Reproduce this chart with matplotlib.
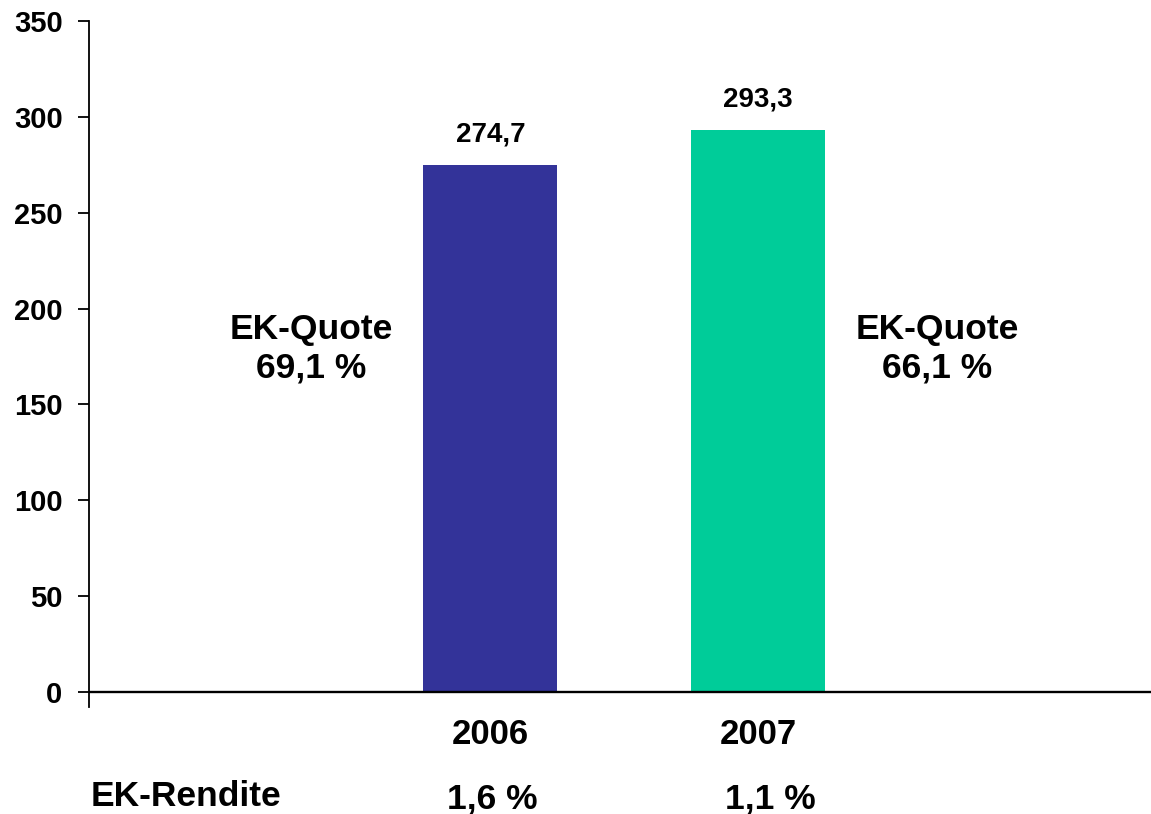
import matplotlib
matplotlib.use("Agg")
import matplotlib.pyplot as plt

years = ["2006", "2007"]
values = [274.7, 293.3]
value_labels = ["274,7", "293,3"]
colors = ["#333399", "#00CC99"]
quote_labels = ["EK-Quote\n69,1 %", "EK-Quote\n66,1 %"]
rendite_title = "EK-Rendite"
rendite_labels = ["1,6 %", "1,1 %"]
yticks = [0, 50, 100, 150, 200, 250, 300, 350]

plt.rcParams['font.family'] = ['Liberation Sans', 'DejaVu Sans']
plt.rcParams['font.weight'] = 'bold'

fig = plt.figure(figsize=(11.51, 8.14), dpi=100)
ax = fig.add_axes([89/1151, 107/814, 1062/1151, 686/814])

x = [0, 1]
bars = ax.bar(x, values, width=0.5, color=colors, zorder=2)

ax.set_xlim(-1.5, 2.469)
ax.set_ylim(-7.8, 350)
ax.set_yticks(yticks)
ax.set_yticklabels([str(v) for v in yticks], fontsize=21, fontweight='bold')
ax.tick_params(axis='y', direction='out', length=8, width=1.3, pad=11)

ax.set_xticks(x)
ax.set_xticklabels(years, fontsize=25, fontweight='bold')
ax.tick_params(axis='x', length=0, pad=8)

for s in ['top', 'right', 'bottom']:
    ax.spines[s].set_visible(False)
ax.spines['left'].set_linewidth(1.3)
ax.axhline(0, color='black', linewidth=1.7, zorder=3)

for xi, v, lab in zip(x, values, value_labels):
    ax.annotate(lab, (xi, v), xytext=(0, 22), textcoords='offset points',
                ha='center', va='center', fontsize=20, fontweight='bold')

quote_x = [-0.67, 1.669]
for qx, q in zip(quote_x, quote_labels):
    ax.text(qx, 179, q, ha='center', va='center', fontsize=25.5,
            fontweight='bold', linespacing=1.22)

ax.text(-1.138, -54.5, rendite_title, ha='center', va='center', fontsize=25.5,
        fontweight='bold', clip_on=False)
for xi, lab in zip([0.008, 1.046], rendite_labels):
    ax.text(xi, -56, lab, ha='center', va='center', fontsize=25.5,
            fontweight='bold', clip_on=False)

fig.savefig("out.png", dpi=100)
